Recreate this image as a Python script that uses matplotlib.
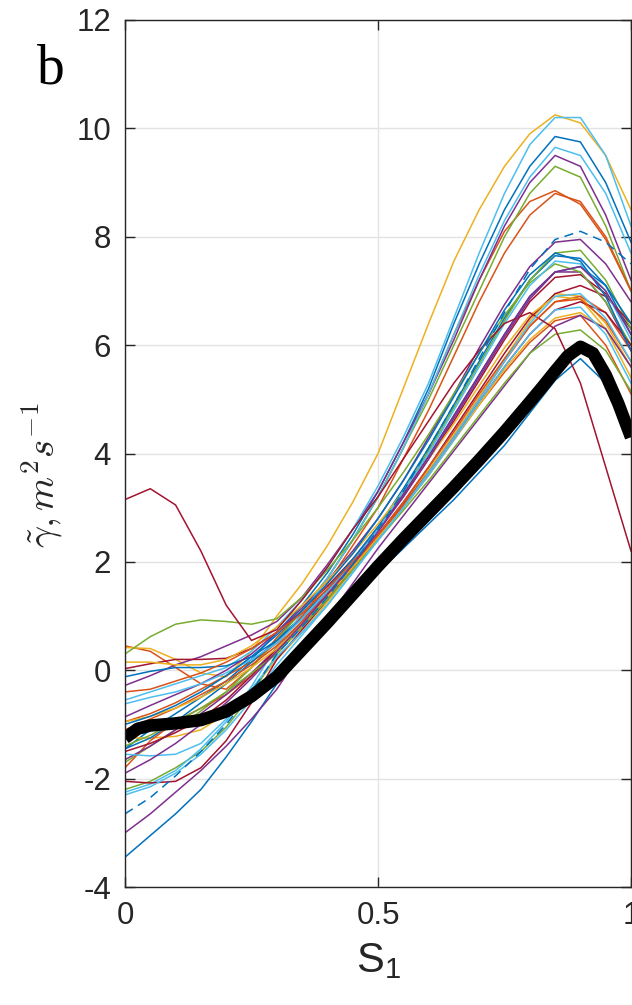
import numpy as np
import matplotlib.pyplot as plt

plt.rcParams['axes.unicode_minus'] = False

# S1 sample positions
s1 = [0, 0.05, 0.1, 0.15, 0.2, 0.25, 0.3, 0.35, 0.4, 0.45, 0.5,
      0.55, 0.6, 0.65, 0.7, 0.75, 0.8, 0.85, 0.9, 0.95, 1.0]

# individual profiles
yellow_a = [0.42, 0.40, 0.20, -0.05, -0.12, 0.35, 1.00, 1.60, 2.30, 3.10, 4.00, 5.20, 6.40, 7.55, 8.50, 9.30, 9.90, 10.25, 10.10, 9.50, 8.50]
ltblue_a = [-0.55, -0.40, -0.25, -0.10, 0.05, 0.35, 0.80, 1.30, 1.90, 2.60, 3.40, 4.30, 5.30, 6.50, 7.70, 8.80, 9.70, 10.20, 10.20, 9.50, 8.20]
blue_a = [-1.45, -1.10, -0.80, -0.50, -0.20, 0.20, 0.70, 1.20, 1.80, 2.50, 3.30, 4.20, 5.20, 6.40, 7.50, 8.50, 9.30, 9.85, 9.75, 9.00, 7.90]
ltblue_b = [-2.25, -2.10, -1.85, -1.45, -0.95, -0.30, 0.45, 1.05, 1.70, 2.40, 3.20, 4.10, 5.10, 6.20, 7.30, 8.30, 9.10, 9.65, 9.50, 8.80, 7.70]
purple_a = [-0.28, -0.10, 0.10, 0.25, 0.45, 0.65, 0.90, 1.35, 1.95, 2.60, 3.30, 4.20, 5.10, 6.10, 7.20, 8.20, 9.00, 9.50, 9.30, 8.40, 7.20]
green_a = [-1.70, -1.40, -1.10, -0.75, -0.40, 0.05, 0.55, 1.10, 1.70, 2.40, 3.20, 4.10, 5.00, 6.00, 7.00, 8.00, 8.80, 9.30, 9.10, 8.20, 7.00]
orange_a = [0.45, 0.35, 0.05, -0.25, -0.35, 0.05, 0.60, 1.10, 1.70, 2.40, 3.20, 4.10, 5.10, 6.20, 7.20, 8.10, 8.65, 8.85, 8.60, 7.95, 7.00]
orange_b = [-0.95, -0.80, -0.60, -0.35, -0.10, 0.15, 0.50, 1.00, 1.60, 2.30, 3.00, 3.90, 4.80, 5.80, 6.80, 7.70, 8.40, 8.80, 8.65, 8.00, 7.00]
blue_dash = [-2.65, -2.35, -1.95, -1.50, -1.00, -0.40, 0.30, 0.80, 1.35, 1.95, 2.60, 3.30, 4.10, 4.90, 5.75, 6.60, 7.40, 7.95, 8.10, 7.90, 7.50]
purple_b = [-0.86, -0.65, -0.45, -0.25, 0.00, 0.30, 0.70, 1.15, 1.65, 2.20, 2.80, 3.50, 4.30, 5.10, 5.95, 6.75, 7.45, 7.90, 7.95, 7.50, 6.80]
green_b = [-2.20, -2.05, -1.80, -1.50, -1.05, -0.45, 0.30, 0.80, 1.35, 1.95, 2.60, 3.30, 4.05, 4.85, 5.65, 6.45, 7.20, 7.70, 7.75, 7.20, 6.30]
blue_b = [-0.12, -0.02, 0.05, 0.05, 0.08, 0.25, 0.55, 1.00, 1.50, 2.05, 2.65, 3.35, 4.10, 4.90, 5.70, 6.50, 7.20, 7.65, 7.60, 7.10, 6.20]
green_c = [0.30, 0.62, 0.85, 0.93, 0.90, 0.85, 0.95, 1.35, 1.85, 2.40, 3.00, 3.65, 4.35, 5.10, 5.85, 6.55, 7.15, 7.50, 7.35, 6.80, 6.00]
blue_c = [-1.45, -1.25, -0.95, -0.60, -0.25, 0.15, 0.55, 0.95, 1.45, 2.00, 2.60, 3.25, 3.95, 4.70, 5.45, 6.20, 6.90, 7.35, 7.45, 7.10, 6.40]
purple_c = [-1.65, -1.40, -1.10, -0.80, -0.45, -0.05, 0.40, 0.90, 1.45, 2.00, 2.60, 3.25, 3.95, 4.70, 5.45, 6.20, 6.90, 7.35, 7.35, 6.80, 5.90]
ltblue_c = [-0.62, -0.50, -0.40, -0.25, -0.05, 0.20, 0.50, 0.95, 1.45, 2.00, 2.60, 3.30, 4.00, 4.80, 5.60, 6.40, 7.10, 7.55, 7.50, 7.00, 6.10]
red_a = [0.03, 0.12, 0.20, 0.20, 0.22, 0.40, 0.70, 1.10, 1.55, 2.05, 2.60, 3.20, 3.90, 4.60, 5.35, 6.10, 6.80, 7.25, 7.30, 6.95, 6.30]
red_b = [-2.05, -2.08, -2.05, -1.80, -1.30, -0.60, 0.20, 0.75, 1.30, 1.90, 2.50, 3.10, 3.75, 4.45, 5.15, 5.85, 6.50, 6.95, 7.10, 6.90, 6.40]
yellow_b = [-1.25, -1.25, -1.22, -1.10, -0.80, -0.35, 0.20, 0.70, 1.25, 1.85, 2.45, 3.05, 3.70, 4.35, 5.05, 5.75, 6.45, 6.95, 6.90, 6.40, 5.60]
yellow_c = [0.15, 0.15, 0.10, 0.10, 0.20, 0.45, 0.80, 1.20, 1.65, 2.15, 2.70, 3.30, 3.90, 4.55, 5.25, 5.95, 6.55, 6.90, 6.85, 6.30, 5.40]
orange_c = [-1.80, -1.30, -0.95, -0.70, -0.45, -0.10, 0.35, 0.85, 1.40, 1.95, 2.50, 3.10, 3.75, 4.40, 5.10, 5.75, 6.35, 6.80, 6.90, 6.60, 5.90]
red_c = [-1.50, -1.35, -1.15, -0.90, -0.55, -0.10, 0.40, 0.85, 1.35, 1.90, 2.45, 3.05, 3.65, 4.30, 4.95, 5.60, 6.20, 6.65, 6.80, 6.60, 6.00]
ltblue_d = [-1.55, -1.58, -1.55, -1.35, -0.90, -0.35, 0.25, 0.70, 1.20, 1.80, 2.40, 3.00, 3.60, 4.25, 4.95, 5.60, 6.20, 6.65, 6.70, 6.20, 5.30]
purple_d = [-3.00, -2.65, -2.25, -1.85, -1.40, -0.90, -0.35, 0.35, 0.95, 1.60, 2.25, 2.85, 3.45, 4.05, 4.65, 5.25, 5.85, 6.35, 6.55, 6.30, 5.60]
yellow_d = [-0.95, -0.85, -0.70, -0.50, -0.25, 0.05, 0.40, 0.85, 1.35, 1.90, 2.45, 3.00, 3.60, 4.25, 4.90, 5.55, 6.10, 6.50, 6.60, 6.30, 5.60]
orange_d = [-1.10, -0.90, -0.70, -0.45, -0.20, 0.10, 0.45, 0.90, 1.40, 1.90, 2.45, 3.00, 3.60, 4.25, 4.90, 5.50, 6.05, 6.45, 6.55, 6.00, 5.10]
green_d = [-1.40, -1.20, -0.95, -0.70, -0.40, -0.05, 0.30, 0.80, 1.30, 1.85, 2.40, 2.95, 3.50, 4.10, 4.70, 5.30, 5.85, 6.20, 6.28, 5.90, 5.15]
blue_d = [-3.45, -3.05, -2.65, -2.20, -1.60, -0.95, -0.25, 0.35, 0.85, 1.30, 1.80, 2.25, 2.70, 3.15, 3.65, 4.15, 4.75, 5.35, 5.75, 5.30, 4.50]
red_d = [3.15, 3.35, 3.05, 2.20, 1.20, 0.55, 0.75, 1.30, 1.90, 2.60, 3.20, 3.90, 4.60, 5.30, 5.90, 6.40, 6.60, 6.30, 5.30, 3.75, 2.20]
ltblue_e = [-2.30, -2.15, -1.90, -1.55, -1.10, -0.55, 0.10, 0.65, 1.20, 1.80, 2.40, 3.00, 3.65, 4.30, 5.00, 5.70, 6.40, 6.90, 6.95, 6.50, 5.70]
blue_e = [-1.00, -0.85, -0.65, -0.40, -0.10, 0.25, 0.65, 1.10, 1.60, 2.15, 2.80, 3.50, 4.25, 5.05, 5.85, 6.65, 7.30, 7.70, 7.55, 6.90, 5.90]
purple_e = [-1.90, -1.65, -1.35, -1.00, -0.60, -0.15, 0.35, 0.85, 1.40, 1.95, 2.55, 3.20, 3.90, 4.65, 5.40, 6.15, 6.85, 7.35, 7.45, 7.00, 6.20]
orange_e = [-0.40, -0.35, -0.20, -0.05, 0.15, 0.40, 0.70, 1.05, 1.50, 2.00, 2.50, 3.05, 3.65, 4.30, 5.00, 5.70, 6.35, 6.80, 6.85, 6.45, 5.70]

# thick black mean curve (finer sampling around the peak)
mean_s1 = [0, 0.025, 0.05, 0.1, 0.15, 0.2, 0.25, 0.3, 0.35, 0.4, 0.45, 0.5,
           0.55, 0.6, 0.65, 0.7, 0.75, 0.8, 0.825, 0.85, 0.875, 0.9,
           0.925, 0.95, 0.975, 1.0]
gamma_mean = [-1.25, -1.08, -1.02, -0.98, -0.92, -0.76, -0.48, -0.12, 0.38, 0.88,
              1.40, 1.92, 2.42, 2.90, 3.38, 3.88, 4.40, 4.95, 5.23, 5.52,
              5.80, 5.97, 5.85, 5.45, 4.92, 4.30]

# matlab default colour order
C_BLUE = '#0072BD'
C_ORANGE = '#D95319'
C_YELLOW = '#EDB120'
C_PURPLE = '#7E2F8E'
C_GREEN = '#77AC30'
C_LTBLUE = '#4DBEEE'
C_RED = '#A2142F'

thin = [
    (blue_a, C_BLUE), (orange_a, C_ORANGE), (yellow_a, C_YELLOW), (purple_a, C_PURPLE),
    (green_a, C_GREEN), (ltblue_a, C_LTBLUE), (red_a, C_RED),
    (blue_b, C_BLUE), (orange_b, C_ORANGE), (yellow_b, C_YELLOW), (purple_b, C_PURPLE),
    (green_b, C_GREEN), (ltblue_b, C_LTBLUE), (red_b, C_RED),
    (blue_c, C_BLUE), (orange_c, C_ORANGE), (yellow_c, C_YELLOW), (purple_c, C_PURPLE),
    (green_c, C_GREEN), (ltblue_c, C_LTBLUE), (red_c, C_RED),
    (blue_d, C_BLUE), (orange_d, C_ORANGE), (yellow_d, C_YELLOW), (purple_d, C_PURPLE),
    (green_d, C_GREEN), (ltblue_d, C_LTBLUE), (red_d, C_RED),
    (blue_e, C_BLUE), (orange_e, C_ORANGE), (purple_e, C_PURPLE), (ltblue_e, C_LTBLUE),
]

fig = plt.figure(figsize=(6.32, 10.05), dpi=100)
ax = fig.add_axes([125/632, 118/1005, 506/632, 867/1005])

for vals, col in thin:
    ax.plot(s1, vals, color=col, lw=1.1, solid_joinstyle='round')
ax.plot(s1, blue_dash, color=C_BLUE, lw=1.1, ls=(0, (6, 4)))
ax.plot(mean_s1, gamma_mean, color='k', lw=9, solid_capstyle='butt',
        solid_joinstyle='round')

ax.set_xlim(0, 1)
ax.set_ylim(-4, 12)
ax.set_xticks([0, 0.5, 1])
ax.set_xticklabels(['0', '0.5', '1'])
ax.set_yticks(np.arange(-4, 13, 2))
ax.grid(True, color='#e3e3e3', lw=1.0)
ax.set_axisbelow(True)

for sp in ax.spines.values():
    sp.set_color('#262626')
    sp.set_linewidth(1.0)
ax.tick_params(direction='in', length=7, width=1.0, top=True, right=True,
               labelsize=22.5, pad=10, colors='#262626')
for lab in ax.get_xticklabels() + ax.get_yticklabels():
    lab.set_family('Liberation Sans')

ax.set_xlabel(r'S$_\mathregular{1}$', fontsize=30, family='Liberation Sans',
              color='#262626')
ax.xaxis.set_label_coords(0.5, -0.062)
ax.set_ylabel(r'$\tilde{\gamma}, m^2 s^{-1}$', fontsize=28, math_fontfamily='cm',
              color='#262626')
ax.yaxis.set_label_coords(-0.118, 0.475)

fig.text(37/632, 1 - 84/1005, 'b', fontsize=40, family='Liberation Serif',
         va='baseline', ha='left')

fig.savefig('out.png', dpi=100)
